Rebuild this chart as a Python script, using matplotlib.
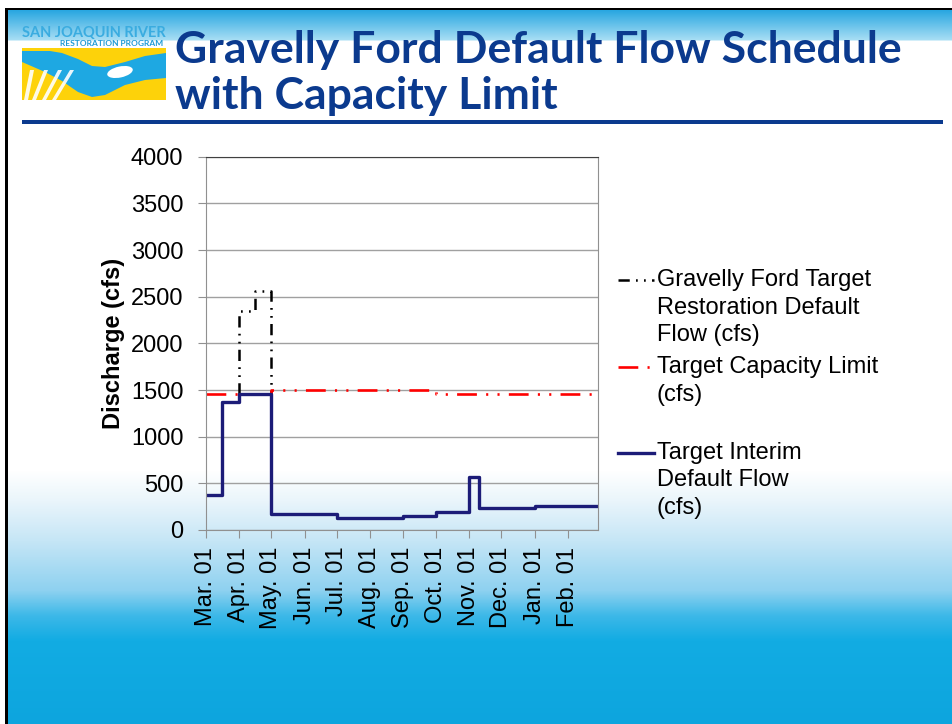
import numpy as np
import matplotlib.pyplot as plt
from matplotlib.patches import Rectangle, Polygon, Ellipse
from matplotlib.lines import Line2D

plt.rcParams['font.family'] = ['Liberation Sans', 'DejaVu Sans']

# days counted from Mar. 01
month_days = [0, 31, 61, 92, 122, 153, 184, 214, 245, 275, 306, 337]
month_labels = ['Mar. 01', 'Apr. 01', 'May. 01', 'Jun. 01', 'Jul. 01', 'Aug. 01',
                'Sep. 01', 'Oct. 01', 'Nov. 01', 'Dec. 01', 'Jan. 01', 'Feb. 01']

# step series (value holds until next change)
restoration_days = [0, 15, 31, 46, 61, 122, 184, 214, 245, 254, 306, 365]
restoration_flow = [370, 1370, 2350, 2560, 170, 130, 155, 190, 570, 240, 260, 260]

capacity_days = [0, 61, 214, 365]
capacity_flow = [1460, 1500, 1460, 1460]

interim_days = [0, 15, 31, 61, 122, 184, 214, 245, 254, 306, 365]
interim_flow = [370, 1370, 1460, 170, 130, 155, 190, 570, 240, 260, 260]

W, H = 953, 724
fig = plt.figure(figsize=(W / 100, H / 100), dpi=100)

# slide background
bg = fig.add_axes([0, 0, 1, 1], zorder=0)
rows = np.arange(H)
stops_y = [0, 8, 8.5, 10, 39.5, 40.5, 470, 500, 540, 590, 615, 640, 724]
stops_c = ['#ffffff', '#ffffff', '#29a7e1', '#29a7e1', '#a8def4', '#ffffff', '#ffffff',
           '#eaf5fb', '#c6e6f6', '#8ed1f0', '#3db8e8', '#12ace3', '#0da5de']
rgb = np.array([[int(c[i:i + 2], 16) / 255 for i in (1, 3, 5)] for c in stops_c])
col = np.stack([np.interp(rows, stops_y, rgb[:, k]) for k in range(3)], axis=1)
grad = np.repeat(col[:, None, :], W, axis=1)
grad[:, :5] = 1.0
bg.imshow(grad, extent=[0, W, H, 0], aspect='auto', interpolation='bilinear')
bg.set_xlim(0, W)
bg.set_ylim(H, 0)
bg.axis('off')

# frame lines
bg.add_patch(Rectangle((5, 8), W, 2.2, color='black', lw=0))
bg.add_patch(Rectangle((5, 8), 3, H, color='black', lw=0))

# title
title_color = '#0b3a8e'
bg.text(175, 63, 'Gravelly Ford Default Flow Schedule', fontsize=32, fontweight='bold',
        family='Lato', color=title_color, va='baseline')
bg.text(175, 109, 'with Capacity Limit', fontsize=32, fontweight='bold',
        family='Lato', color=title_color, va='baseline')
bg.add_patch(Rectangle((22, 120), 921, 4, color='#0b3a8e', lw=0))

# logo
bg.text(22, 37, 'SAN JOAQUIN RIVER', fontsize=10.5, fontweight='bold', family='Lato',
        color='#3aace0', va='baseline')
bg.text(60, 46, 'RESTORATION PROGRAM', fontsize=6, fontweight='bold', family='Lato',
        color='#1e9ad6', va='baseline')
bg.add_patch(Rectangle((22, 48), 144, 52, color='#fdd20a', lw=0))
upper = [(22, 51), (50, 51), (62, 53), (78, 59), (92, 66), (105, 67), (125, 62), (145, 56), (166, 53)]
lower = [(166, 78), (145, 80), (125, 85), (105, 95), (92, 97), (78, 92), (62, 81), (45, 72), (22, 62)]
bg.add_patch(Polygon(upper + lower, closed=True, color='#1ea8e2', lw=0))
bg.add_patch(Ellipse((120, 72), 26, 11, angle=-12, color='white', lw=0))
for x0, x1 in [(24, 30), (32, 44), (42, 58), (52, 70)]:
    bg.add_patch(Polygon([(x0, 100), (x0 + 4, 100), (x1 + 4, 70), (x1, 70)], closed=True,
                         color='white', lw=0, alpha=0.9))

# chart
ax = fig.add_axes([205.7 / W, 1 - 530 / H, 392.3 / W, 373.3 / H], zorder=2)
ax.set_facecolor('none')

black_dash = (4.5, 2.5, 0.7, 2.5, 0.7, 2.5)
red_dash = (7.5, 3.5, 0.8, 3.5, 0.8, 3.5)
ax.step(restoration_days, restoration_flow, where='post', color='black', lw=1.8,
        dashes=black_dash)
ax.step(capacity_days, capacity_flow, where='post', color='#ff0000', lw=1.9,
        dashes=red_dash)
ax.step(interim_days, interim_flow, where='post', color='#1c1c78', lw=2.4)

ax.set_xlim(0, 365)
ax.set_ylim(0, 4000)
ax.set_yticks(np.arange(0, 4001, 500))
ax.set_xticks(month_days)
ax.set_xticklabels(month_labels, rotation=90)
ax.yaxis.grid(True, color='#a0a0a0', lw=1)
ax.set_axisbelow(True)
for s in ax.spines.values():
    s.set_color('#909090')
ax.spines['top'].set_color('#404040')
ax.tick_params(axis='both', colors='#909090', labelcolor='black', labelsize=17,
               length=6, direction='out')
ax.tick_params(axis='x', pad=6)
ax.tick_params(axis='y', pad=10)
ax.set_ylabel('Discharge (cfs)', fontsize=17, fontweight='bold')
ax.yaxis.set_label_coords(-0.205, 0.5)

# legend
leg_items = [
    ('black', 1.8, black_dash, 280, ['Gravelly Ford Target', 'Restoration Default', 'Flow (cfs)']),
    ('#ff0000', 1.9, red_dash, 367, ['Target Capacity Limit', '(cfs)']),
    ('#1c1c78', 2.4, None, 453, ['Target Interim', 'Default Flow', '(cfs)']),
]
for color, lw, dash, y, lines in leg_items:
    ln = Line2D([618, 654], [y, y], color=color, lw=lw)
    if dash:
        ln.set_dashes(dash)
    bg.add_line(ln)
    for i, txt in enumerate(lines):
        bg.text(657, y + i * 27.5, txt, fontsize=17, va='center', color='black')

fig.savefig('out.png', dpi=100)
